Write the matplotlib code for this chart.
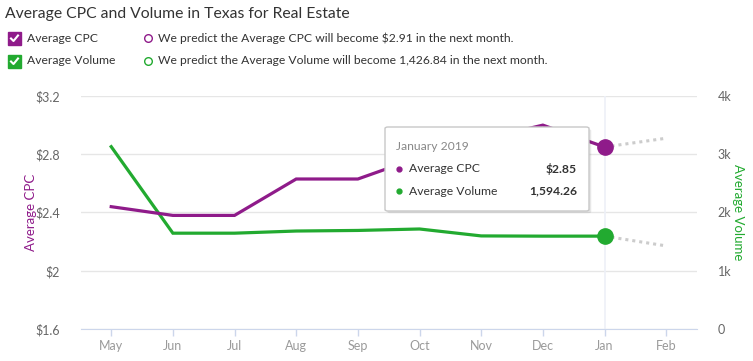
import matplotlib
matplotlib.use("Agg")
import matplotlib.pyplot as plt
from matplotlib.patches import Rectangle, FancyBboxPatch
from matplotlib.lines import Line2D

months = ["May", "Jun", "Jul", "Aug", "Sep", "Oct", "Nov", "Dec", "Jan", "Feb"]
cpc = [2.44, 2.38, 2.38, 2.63, 2.63, 2.78, 2.90, 3.00, 2.85]
volume = [3130, 1645, 1645, 1682, 1692, 1717, 1598, 1594, 1594.26]
cpc_pred = 2.91
volume_pred = 1426.84
cpc_ticks = [1.6, 2.0, 2.4, 2.8, 3.2]
cpc_tick_labels = ["$1.6", "$2", "$2.4", "$2.8", "$3.2"]
vol_ticks = [0, 1000, 2000, 3000, 4000]
vol_tick_labels = ["0", "1k", "2k", "3k", "4k"]

purple = "#8f1b8a"
green = "#22aa30"
grid_c = "#e6e6e6"
axis_c = "#ccd6eb"

plt.rcParams["font.family"] = ["Lato", "DejaVu Sans"]

W, H = 753, 361
fig = plt.figure(figsize=(W / 100, H / 100), dpi=100)
ax = fig.add_axes([81 / W, 1 - 329 / H, (697 - 81) / W, (329 - 96) / H])
ax2 = ax.twinx()

x = list(range(len(cpc)))
last = len(cpc) - 1

ax.set_xlim(-0.49, 9.5)
ax.set_ylim(1.6, 3.2)
ax2.set_ylim(0, 4000)

ax.set_yticks(cpc_ticks)
ax.set_yticklabels(cpc_tick_labels)
ax2.set_yticks(vol_ticks)
ax2.set_yticklabels(vol_tick_labels)
ax.set_xticks(range(len(months)))
ax.set_xticklabels(months)

for a in (ax, ax2):
    for s in a.spines.values():
        s.set_visible(False)
ax.spines["bottom"].set_visible(True)
ax.spines["bottom"].set_color(axis_c)

# grid on the lower (volume) axes so it stays behind both lines
ax2.grid(axis="y", color=grid_c, linewidth=1, zorder=0)
ax2.set_axisbelow(True)
ax.tick_params(axis="x", colors=axis_c, length=5, width=1, labelcolor="#9a9a9a",
               labelsize=9, pad=3)
ax.tick_params(axis="y", length=0, labelcolor="#666666", labelsize=9, pad=15)
ax2.tick_params(axis="y", length=0, labelcolor="#666666", labelsize=9, pad=15)

ax.set_ylabel("Average CPC", color=purple, fontsize=9.5, labelpad=-1)
ax2.set_ylabel("Average Volume", color=green, fontsize=9.5, rotation=270, labelpad=9)

# crosshair at the hovered month
ax2.axvline(last, color="#edf0f7", linewidth=1.2, zorder=1)

ax2.plot(x, volume, color=green, linewidth=2.3, zorder=3, solid_joinstyle="miter")
ax.plot(x, cpc, color=purple, linewidth=2.3, zorder=3, solid_joinstyle="miter")
ax.set_zorder(ax2.get_zorder() + 1)
ax.patch.set_visible(False)

# predictions
ax.plot([last, last + 1], [cpc[-1], cpc_pred], color="#cccccc", linewidth=2.2,
        linestyle=(0, (1, 1.3)), zorder=2)
ax2.plot([last, last + 1], [volume[-1], volume_pred], color="#cccccc", linewidth=2.2,
         linestyle=(0, (1, 1.3)), zorder=2)
ax.plot([last], [cpc[-1]], "o", color=purple, markersize=11, zorder=5)
ax2.plot([last], [volume[-1]], "o", color=green, markersize=11, zorder=5)

# title and legend
fig.text(5 / W, 1 - 14 / H, "Average CPC and Volume in Texas for Real Estate",
         fontsize=11.3, color="#333333", va="center", ha="left")

fs = 8.7


def checkbox(y, color, label):
    fig.patches.append(Rectangle((8 / W, 1 - (y + 6.5) / H), 13 / W, 13 / H,
                                 transform=fig.transFigure, color=color, zorder=5))
    fig.lines.append(Line2D([11 / W, 13.5 / W, 18 / W],
                            [1 - (y + 0.5) / H, 1 - (y + 3) / H, 1 - (y - 2.5) / H],
                            transform=fig.transFigure, color="white", linewidth=1.5,
                            zorder=6))
    fig.text(27 / W, 1 - y / H, label, fontsize=fs, color="#333333", va="center")


checkbox(38, purple, "Average CPC")
checkbox(61, green, "Average Volume")

fig.lines.append(Line2D([148 / W], [1 - 38 / H], marker="o", markersize=5.5,
                        markerfacecolor="white", markeredgecolor=purple,
                        markeredgewidth=1, transform=fig.transFigure))
fig.lines.append(Line2D([148 / W], [1 - 61 / H], marker="o", markersize=5.5,
                        markerfacecolor="white", markeredgecolor=green,
                        markeredgewidth=1, transform=fig.transFigure))
fig.text(158 / W, 1 - 38 / H,
         "We predict the Average CPC will become ${:.2f} in the next month.".format(cpc_pred),
         fontsize=fs, color="#333333", va="center")
fig.text(158 / W, 1 - 61 / H,
         "We predict the Average Volume will become {:,.2f} in the next month.".format(volume_pred),
         fontsize=fs, color="#333333", va="center")

# tooltip
tx0, ty0, tx1, ty1 = 385, 127, 589, 211
fig.patches.append(FancyBboxPatch((tx0 / W + 0.003, 1 - ty1 / H - 0.006),
                                  (tx1 - tx0) / W, (ty1 - ty0) / H,
                                  boxstyle="round,pad=0,rounding_size=0.004",
                                  transform=fig.transFigure, facecolor="#00000018",
                                  edgecolor="none", zorder=8))
fig.patches.append(FancyBboxPatch((tx0 / W, 1 - ty1 / H), (tx1 - tx0) / W, (ty1 - ty0) / H,
                                  boxstyle="round,pad=0,rounding_size=0.004",
                                  transform=fig.transFigure, facecolor="white",
                                  edgecolor="#c8c8c8", linewidth=1, zorder=9))
fig.text(396 / W, 1 - 146 / H, "January 2019", fontsize=fs, color="#888888",
         va="center", zorder=10)
for yy, col, name, val in [(169, purple, "Average CPC", "${:.2f}".format(cpc[-1])),
                           (191, green, "Average Volume", "{:,.2f}".format(volume[-1]))]:
    fig.lines.append(Line2D([399 / W], [1 - yy / H], marker="o", markersize=3.5,
                            color=col, transform=fig.transFigure, zorder=10))
    fig.text(409 / W, 1 - yy / H, name, fontsize=fs, color="#333333", va="center",
             zorder=10)
    fig.text(577 / W, 1 - yy / H, val, fontsize=fs, color="#333333", va="center",
             ha="right", fontweight="bold", zorder=10)

fig.savefig("out.png", dpi=100)
